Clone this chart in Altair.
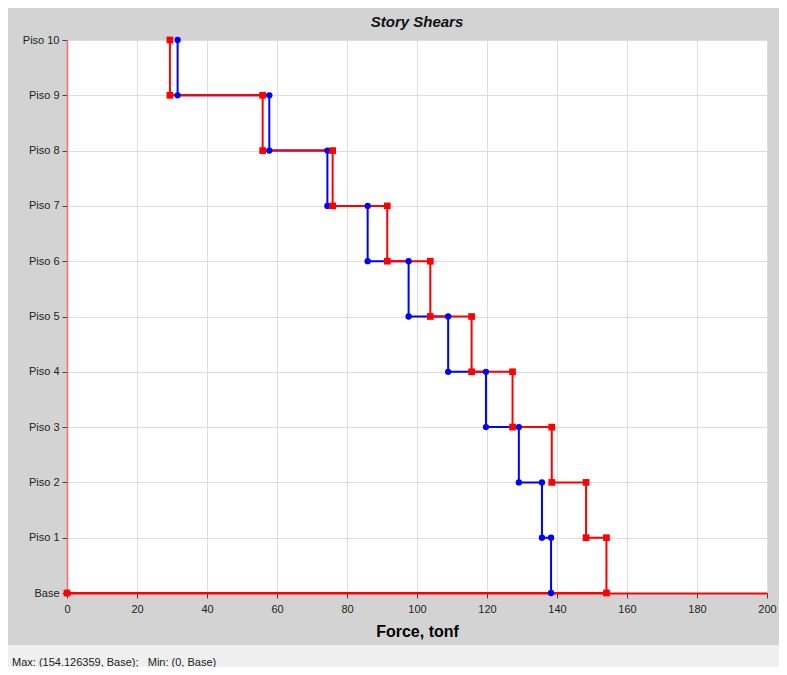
import altair as alt
import pandas as pd

levels = ["Base", "Piso 1", "Piso 2", "Piso 3", "Piso 4", "Piso 5",
          "Piso 6", "Piso 7", "Piso 8", "Piso 9", "Piso 10"]
# story shears from Piso 10 down to Piso 1
blue_shear = [31.6, 57.8, 74.4, 85.9, 97.6, 108.9, 119.7, 129.1, 135.7, 138.3]
red_shear = [29.4, 55.9, 75.9, 91.5, 103.8, 115.6, 127.3, 138.5, 148.3, 154.126359]
series_names = ["Blue", "Red"]
series_colors = ["#0000ff", "#ff0000"]


def step_rows(name, shears):
    rows = []
    k = 0
    n = len(shears)
    for i, v in enumerate(shears):
        top = n - i
        rows.append({"series": name, "order": k, "force": v, "level": top}); k += 1
        rows.append({"series": name, "order": k, "force": v, "level": top - 1}); k += 1
    rows.append({"series": name, "order": k, "force": 0.0, "level": 0})
    return rows


df = pd.DataFrame(step_rows("Blue", blue_shear) + step_rows("Red", red_shear))

color = alt.Color("series:N", scale=alt.Scale(domain=series_names, range=series_colors), legend=None)

x_enc = alt.X("force:Q", title="Force, tonf",
              scale=alt.Scale(domain=[0, 200], nice=False),
              axis=alt.Axis(values=list(range(0, 201, 20)), labelFontSize=11, labelColor="#222222",
                            labelFont="Liberation Sans", tickSize=5, tickColor="#444444",
                            labelPadding=5, labelFlush=False, labelOverlap=False,
                            domainColor="#ff0000", domainWidth=2,
                            titleFont="Liberation Sans", titleFontSize=16, titleFontWeight="bold",
                            titleColor="#000000", titlePadding=9,
                            gridColor="#dedede", gridWidth=1))
y_enc = alt.Y("level:Q", title=None,
              scale=alt.Scale(domain=[0, 10], nice=False),
              axis=alt.Axis(values=list(range(0, 11)),
                            labelExpr="datum.value == 0 ? 'Base' : 'Piso ' + datum.value",
                            labelFontSize=11, labelColor="#222222", labelFont="Liberation Sans",
                            labelFlush=False, labelOverlap=False,
                            tickSize=5, tickColor="#444444", labelPadding=3,
                            domainColor="#ff6a6a", domainWidth=1.5,
                            gridColor="#dedede", gridWidth=1))

lines = alt.Chart(df).mark_line(strokeWidth=2, interpolate="linear").encode(
    x=x_enc, y=y_enc, color=color, order="order:Q", detail="series:N")
blue_pts = alt.Chart(df[df.series == "Blue"]).mark_point(shape="circle", filled=True, size=40, opacity=1).encode(
    x="force:Q", y="level:Q", color=color)
red_pts = alt.Chart(df[df.series == "Red"]).mark_point(shape="square", filled=True, size=45, opacity=1).encode(
    x="force:Q", y="level:Q", color=color)

nb = "\u00a0"
max_text = f"Max: ({max(red_shear):.6f}, Base);{nb*3}Min: (0, Base)"
strip_df = pd.DataFrame({"label": [max_text]})
strip = alt.Chart(strip_df).mark_rect(color="#f0f0f0").encode(
    x=alt.value(-59), x2=alt.value(712), y=alt.value(605), y2=alt.value(627))
strip_text = alt.Chart(strip_df).mark_text(align="left", baseline="middle", fontSize=11,
                                           font="Liberation Sans", color="#222222").encode(
    x=alt.value(-55), y=alt.value(623), text="label:N")

chart = alt.layer(strip, lines, blue_pts, red_pts, strip_text).properties(
    width=700, height=553,
    title=alt.TitleParams("Story Shears", fontStyle="italic", fontWeight="bold", fontSize=15,
                          font="Liberation Sans", anchor="middle", offset=4, color="#111111"),
    autosize=alt.AutoSizeParams(type="none"),
    padding={"left": 59, "top": 32, "right": 12, "bottom": 74},
    background="#d3d3d3",
).configure_view(stroke=None, fill="#ffffff")

chart.save("out.html", embed_options={"renderer": "svg", "actions": False})
